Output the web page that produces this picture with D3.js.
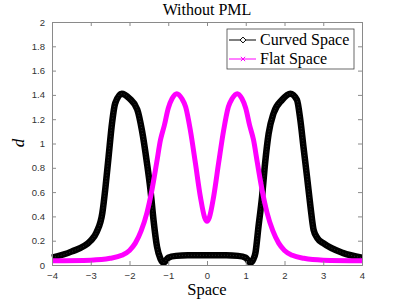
<!DOCTYPE html>
<html><head><meta charset="utf-8">
<script src="https://cdn.jsdelivr.net/npm/d3@7"></script>
<style>body{margin:0;background:#fff}svg{display:block}</style>
</head><body>
<script>
const curvedX = [-4,-3.5,-3,-2.85,-2.7,-2.62,-2.54,-2.45,-2.37,-2.2,-2.0,-1.8,-1.68,-1.55,-1.46,-1.38,-1.29,-1.2,-1.12,-1.0,-0.8,-0.5,0,0.5,0.8,1.0,1.12,1.2,1.25,1.33,1.42,1.5,1.59,1.72,1.94,2.15,2.32,2.41,2.49,2.58,2.67,2.75,2.85,3.0,3.5,4];
const curvedY = [0.06,0.11,0.2,0.27,0.43,0.64,0.89,1.17,1.33,1.41,1.37,1.28,1.11,0.84,0.62,0.37,0.15,0.05,0.02,0.06,0.075,0.08,0.08,0.08,0.075,0.06,0.02,0.05,0.1,0.32,0.56,0.84,1.08,1.25,1.36,1.41,1.36,1.19,0.97,0.73,0.48,0.29,0.22,0.18,0.1,0.06];
const flatX = [-4,-3,-2.5,-2.2,-2.0,-1.85,-1.7,-1.55,-1.42,-1.3,-1.2,-1.1,-1.0,-0.9,-0.78,-0.65,-0.55,-0.43,-0.3,-0.17,-0.06,0,0.06,0.17,0.3,0.43,0.55,0.65,0.78,0.9,1.0,1.1,1.2,1.3,1.42,1.55,1.7,1.85,2.0,2.2,2.5,3,4];
const flatY = [0.035,0.04,0.055,0.08,0.12,0.18,0.28,0.43,0.62,0.84,1.03,1.15,1.29,1.37,1.41,1.37,1.3,1.11,0.84,0.56,0.39,0.36,0.39,0.56,0.84,1.11,1.3,1.37,1.41,1.37,1.29,1.15,1.03,0.84,0.62,0.43,0.28,0.18,0.12,0.08,0.055,0.04,0.035];
const xTicks = [-4,-3,-2,-1,0,1,2,3,4];
const yTicks = [0,0.2,0.4,0.6,0.8,1,1.2,1.4,1.6,1.8,2];
const seriesNames = ["Curved Space","Flat Space"];
const titleText = "Without PML";
const xLabel = "Space";
const yLabel = "d";

const W=400,H=300, L=52, R=362, T=22, B=265;
const svg=d3.select("body").append("svg").attr("width",W).attr("height",H);
const x=d3.scaleLinear().domain([-4,4]).range([L,R]);
const y=d3.scaleLinear().domain([0,2]).range([B,T]);
const axisCol="#8a8a8a", tickTxt="#333";

// plot lines
const line=d3.line().x(d=>x(d[0])).y(d=>y(d[1])).curve(d3.curveMonotoneX);
const cData=curvedX.map((v,i)=>[v,curvedY[i]]);
const fData=flatX.map((v,i)=>[v,flatY[i]]);
const g=svg.append("g");
g.append("path").datum(cData).attr("d",line).attr("fill","none").attr("stroke","#000").attr("stroke-width",6.5).attr("stroke-linejoin","round");
g.append("path").datum(cData).attr("d",line).attr("fill","none").attr("stroke","#555").attr("stroke-width",1).attr("stroke-dasharray","1,2").attr("opacity",0.5);
g.append("path").datum(fData).attr("d",line).attr("fill","none").attr("stroke","#ff00ff").attr("stroke-width",5).attr("stroke-linejoin","round");

// axes
const fmt=d=>String(d);
const ax=svg.append("g").attr("transform",`translate(0,${B})`).call(d3.axisBottom(x).tickValues(xTicks).tickSize(-4).tickPadding(7).tickFormat(d3.format("d")));
const axT=svg.append("g").attr("transform",`translate(0,${T})`).call(d3.axisTop(x).tickValues(xTicks).tickSize(-4).tickFormat(""));
const ay=svg.append("g").attr("transform",`translate(${L},0)`).call(d3.axisLeft(y).tickValues(yTicks).tickSize(-4).tickPadding(7).tickFormat(fmt));
const ayR=svg.append("g").attr("transform",`translate(${R},0)`).call(d3.axisRight(y).tickValues(yTicks).tickSize(-4).tickFormat(""));
[ax,axT,ay,ayR].forEach(a=>{
  a.selectAll("path").attr("stroke",axisCol).attr("stroke-width",1);
  a.selectAll("line").attr("stroke",axisCol);
  a.selectAll("text").attr("fill",tickTxt).style("font-family","'Liberation Sans',Arial,sans-serif").style("font-size","9.5px");
});

// title and labels
svg.append("text").attr("x",207).attr("y",15).attr("text-anchor","middle").style("font-family","'Liberation Serif',serif").style("font-size","16px").text(titleText);
svg.append("text").attr("x",207).attr("y",295).attr("text-anchor","middle").style("font-family","'Liberation Serif',serif").style("font-size","16.5px").text(xLabel);
svg.append("text").attr("transform","translate(24,143) rotate(-90)").attr("text-anchor","middle").style("font-family","'Liberation Serif',serif").style("font-style","italic").style("font-size","17px").text(yLabel);

// legend
const lg=svg.append("g");
lg.append("rect").attr("x",227).attr("y",29).attr("width",127).attr("height",40).attr("fill","#fff").attr("stroke","#444").attr("stroke-width",0.8);
const legY=[40,59], cols=["#000","#ff00ff"];
seriesNames.forEach((n,i)=>{
  lg.append("line").attr("x1",229).attr("x2",256).attr("y1",legY[i]).attr("y2",legY[i]).attr("stroke",cols[i]).attr("stroke-width",1);
  if(i===0){
    lg.append("path").attr("d",d3.symbol(d3.symbolDiamond2,22)()).attr("transform",`translate(243,${legY[i]})`).attr("fill","#fff").attr("stroke","#000").attr("stroke-width",1);
  } else {
    lg.append("path").attr("d",d3.symbol(d3.symbolX,14)()).attr("transform",`translate(243,${legY[i]})`).attr("fill","none").attr("stroke",cols[i]).attr("stroke-width",1);
  }
  lg.append("text").attr("x",260).attr("y",legY[i]+5).style("font-family","'Liberation Serif',serif").style("font-size","16px").text(n);
});
</script>
</body></html>
